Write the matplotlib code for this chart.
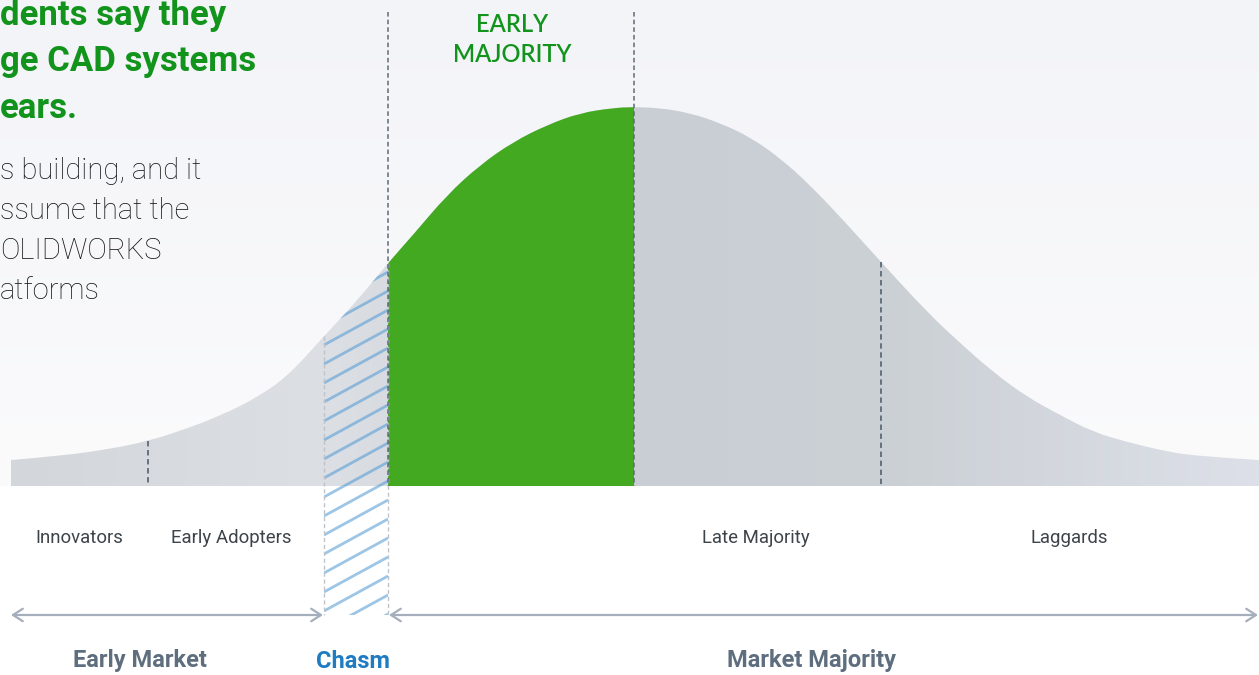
import numpy as np
import matplotlib
matplotlib.use("Agg")
import matplotlib.pyplot as plt
from matplotlib.patches import PathPatch, Rectangle
from matplotlib.path import Path
from matplotlib.colors import LinearSegmentedColormap

# bell curve outline (pixel x, pixel y of the top edge)
curve_x = [11, 60, 110, 148, 180, 220, 260, 290, 324, 356, 388, 413, 447, 480, 513, 547,
           580, 613, 634, 660, 690, 720, 750, 780, 810, 845, 881, 927, 960, 993, 1027,
           1060, 1093, 1127, 1160, 1193, 1259]
curve_top = [460, 456, 449, 441, 431, 416, 396, 374, 336, 302, 263, 235, 195, 165, 142, 125,
             113, 108, 107, 108, 113, 123, 137, 158, 185, 222, 262, 312, 343, 372, 397,
             415, 432, 442, 450, 456, 460]
baseline = 486

# segment borders
innov_end = 148
chasm_start = 324
chasm_end = 388
peak_x = 634
late_end = 881

segment_labels = ["Innovators", "Early Adopters", "Late Majority", "Laggards"]
segment_label_x = [79, 231, 756, 1069]

market_labels = ["Early Market", "Chasm", "Market Majority"]
market_label_x = [140, 353, 812]

heading_lines = ["dents say they", "ge CAD systems", "ears."]
body_lines = ["s building, and it", "ssume that the", "OLIDWORKS", "atforms"]

GREEN = "#43a920"
TEXT_GREEN = "#12941c"
SLATE = "#5e6e7e"
BLUE = "#1f7bc2"
DASH = "#5c6b7a"
ARROW = "#a5aebd"


def curve_path(cx, cy):
    # smooth outline: quadratic segments through the midpoints of the read points
    pts = list(zip(cx, cy))
    verts = [pts[0]]
    codes = [Path.MOVETO]
    for i in range(1, len(pts) - 1):
        nxt = pts[i + 1] if i == len(pts) - 2 else ((pts[i][0] + pts[i + 1][0]) / 2,
                                                    (pts[i][1] + pts[i + 1][1]) / 2)
        verts += [pts[i], nxt]
        codes += [Path.CURVE3, Path.CURVE3]
    verts += [(cx[-1], baseline), (cx[0], baseline), (cx[0], cy[0])]
    codes += [Path.LINETO, Path.LINETO, Path.CLOSEPOLY]
    return Path(verts, codes)


def draw_background(ax):
    cmap = LinearSegmentedColormap.from_list("bg", ["#f3f4f8", "#fbfbfc"])
    grad = np.linspace(0, 1, 256).reshape(-1, 1)
    ax.imshow(grad, cmap=cmap, extent=[0, 1259, baseline, 0], aspect="auto", zorder=0)


def draw_curve(ax, cx, cy):
    shape = PathPatch(curve_path(cx, cy), facecolor="none", edgecolor="none")
    ax.add_patch(shape)
    cmap = LinearSegmentedColormap.from_list(
        "curve", [(0.0, "#d3d7db"), (0.25, "#dcdfe4"), (0.5, "#c9ced5"),
                  (0.72, "#ccd1d6"), (1.0, "#dde0e8")])
    grad = np.linspace(0, 1, 512).reshape(1, -1)
    im = ax.imshow(grad, cmap=cmap, extent=[cx[0], cx[-1], baseline, 90],
                   aspect="auto", zorder=1)
    im.set_clip_path(shape)

    # early majority in green
    green = Rectangle((chasm_end, 90), peak_x - chasm_end, baseline - 90,
                      facecolor=GREEN, edgecolor="none", zorder=2)
    ax.add_patch(green)
    green.set_clip_path(shape)
    return shape


def draw_chasm(ax, cx, cy, shape):
    bottom = 615
    below = Rectangle((chasm_start, baseline), chasm_end - chasm_start, bottom - baseline,
                      facecolor="none", edgecolor="none")
    ax.add_patch(below)
    rise = 35
    for clip in [shape, below]:
        for y0 in np.arange(250, bottom + rise + 20, 19):
            ln, = ax.plot([chasm_start, chasm_end], [y0, y0 - rise], color="#5a9fd6",
                          alpha=0.6, lw=2, zorder=3, solid_capstyle="butt")
            ln.set_clip_path(clip)
    top_left = np.interp(chasm_start, cx, cy)
    top_right = np.interp(chasm_end, cx, cy)
    ax.plot([chasm_start, chasm_start], [top_left, bottom], color="#bfc4ca",
            lw=1, ls=(0, (3, 2)), zorder=4)
    ax.plot([chasm_end, chasm_end], [top_right, bottom], color="#bfc4ca",
            lw=1, ls=(0, (3, 2)), zorder=4)


def draw_dividers(ax, cx, cy):
    for x in [innov_end, late_end]:
        ax.plot([x, x], [np.interp(x, cx, cy), baseline], color=DASH, lw=1.3,
                ls=(0, (3, 2)), zorder=5)
    for x in [chasm_end, peak_x]:
        ax.plot([x, x], [12, baseline], color=DASH, lw=1.1, ls=(0, (3, 2)), zorder=5)


def draw_arrows(ax):
    y = 615
    style = dict(arrowstyle="<->,head_length=0.7,head_width=0.45", color=ARROW, lw=1.6,
                 shrinkA=0, shrinkB=0)
    ax.annotate("", xy=(chasm_start - 1, y), xytext=(11, y), arrowprops=style, zorder=4)
    ax.annotate("", xy=(1258, y), xytext=(chasm_end + 1, y), arrowprops=style, zorder=4)


def draw_text(ax):
    for i, line in enumerate(heading_lines):
        ax.text(0, 16 + i * 46, line, fontsize=25, fontweight="bold", color=TEXT_GREEN,
                family="Roboto", ha="left", va="center")
    for i, line in enumerate(body_lines):
        ax.text(0, 171 + i * 40, line, fontsize=21, fontweight="light", color="#141414",
                family="Roboto", ha="left", va="center")

    ax.text(512, 25, "EARLY", fontsize=17, color=TEXT_GREEN, family="Lato",
            fontweight="semibold", ha="center", va="center")
    ax.text(512, 55, "MAJORITY", fontsize=17, color=TEXT_GREEN, family="Lato",
            fontweight="semibold", ha="center", va="center")

    for label, x in zip(segment_labels, segment_label_x):
        ax.text(x, 538, label, fontsize=13.4, color="#3d4449", family="Roboto",
                ha="center", va="center")

    colors = [SLATE, BLUE, SLATE]
    for label, x, c in zip(market_labels, market_label_x, colors):
        ax.text(x, 661, label, fontsize=17, fontweight="bold", color=c, family="Roboto",
                ha="center", va="center")


def main():
    cx = np.array(curve_x, dtype=float)
    cy = np.array(curve_top, dtype=float)

    fig = plt.figure(figsize=(12.59, 6.75), dpi=100)
    fig.patch.set_facecolor("white")
    ax = fig.add_axes([0, 0, 1, 1])

    draw_background(ax)
    shape = draw_curve(ax, cx, cy)
    draw_chasm(ax, cx, cy, shape)
    draw_dividers(ax, cx, cy)
    draw_arrows(ax)
    draw_text(ax)

    ax.set_xlim(0, 1259)
    ax.set_ylim(675, 0)
    ax.axis("off")
    fig.savefig("out.png", dpi=100)
    plt.close(fig)


if __name__ == "__main__":
    main()
